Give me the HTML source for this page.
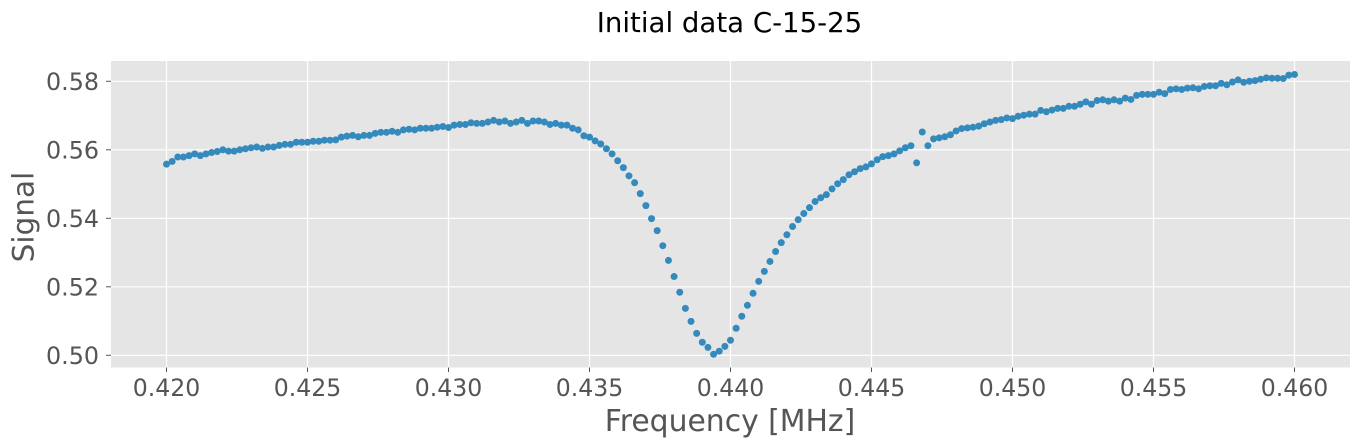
<!DOCTYPE html>
<html><head><meta charset="utf-8"><style>
html,body{margin:0;padding:0;background:#fff;}
svg{display:block;font-family:"DejaVu Sans","Liberation Sans",sans-serif;}
</style></head><body>
<svg id="chart" width="1359" height="446" viewBox="0 0 1359 446">
<text x="729.5" y="32" text-anchor="middle" font-size="27.6" fill="#000">Initial data C-15-25</text>
<rect x="111" y="61" width="1239" height="306.5" fill="#E5E5E5"/>
<g id="grid"></g>
<g id="xticks"></g>
<g id="yticks"></g>
<g id="points"></g>
<text x="730" y="431" text-anchor="middle" font-size="29.8" fill="#555">Frequency [MHz]</text>
<text transform="translate(33.5,217) rotate(-90)" text-anchor="middle" font-size="29.5" fill="#555">Signal</text>
</svg>
<script>
const xStart = 0.420;
const xStep = 0.0002;
const signal = [
.5558,.5566,.5579,.5579,.5583,.5588,.5583,.5588,.5592,.5595,.5600,.5596,.5596,.5600,.5603,.5606,.5608,.5604,.5608,.5608,
.5613,.5616,.5616,.5622,.5622,.5622,.5625,.5625,.5628,.5628,.5629,.5637,.5640,.5642,.5638,.5642,.5642,.5648,.5651,.5651,
.5654,.5651,.5658,.5660,.5658,.5663,.5663,.5663,.5666,.5668,.5665,.5672,.5674,.5674,.5679,.5677,.5677,.5681,.5686,.5681,
.5684,.5677,.5681,.5686,.5677,.5684,.5684,.5681,.5674,.5677,.5672,.5672,.5663,.5658,.5641,.5637,
.5626,.5617,.5603,.5588,.5568,.5548,.5524,.5504,.5472,.5437,.5399,.5364,.5320,.5277,.5230,.5184,.5137,.5099,.5064,.5038,
.5023,.5003,.5012,.5026,.5044,
.5079,.5114,.5146,.5181,.5216,.5245,.5274,.5303,.5329,.5352,.5376,.5396,.5414,.5431,.5449,.5460,.5469,.5486,.5501,.5513,
.5527,.5536,.5545,.5550,.5559,.5571,.5580,.5583,.5588,.5597,.5606,.5612,.5562,.5652,.5612,.5632,.5635,.5638,.5644,.5655,
.5662,.5664,.5666,.5669,.5676,.5681,.5686,.5688,.5693,.5691,.5698,.5701,.5704,.5704,.5715,.5711,.5716,.5721,.5721,.5727,
.5727,.5733,.5740,.5733,.5744,.5746,.5742,.5746,.5742,.5751,.5747,.5759,.5762,.5762,.5762,.5768,.5764,.5776,.5778,.5776,
.5780,.5781,.5778,.5785,.5787,.5787,.5794,.5790,.5798,.5804,.5797,.5800,.5802,.5806,.5810,.5809,.5809,.5808,.5818,.5820
];
const xTicks = [0.420,0.425,0.430,0.435,0.440,0.445,0.450,0.455,0.460];
const xTickLabels = ["0.420","0.425","0.430","0.435","0.440","0.445","0.450","0.455","0.460"];
const yTicks = [0.50,0.52,0.54,0.56,0.58];
const yTickLabels = ["0.50","0.52","0.54","0.56","0.58"];

const NS = "http://www.w3.org/2000/svg";
function xScale(v){ return 166.5 + (v - 0.420) / 0.005 * 141; }
function yScale(v){ return 355.3 - (v - 0.50) / 0.02 * 68.5; }
const grid = document.getElementById('grid');
const xg = document.getElementById('xticks');
const yg = document.getElementById('yticks');
const pg = document.getElementById('points');
function mk(tag, attrs){ const e = document.createElementNS(NS, tag); for (const k in attrs) e.setAttribute(k, attrs[k]); return e; }

xTicks.forEach((t, i) => {
  const x = xScale(t);
  const gl = mk('line', {x1:x, x2:x, y1:61, y2:367.5, stroke:'#fff', 'stroke-width':1.2});
  
  
  grid.appendChild(gl);
  const tk = mk('line', {x1:x, x2:x, y1:367.5, y2:372, stroke:'#555', 'stroke-width':1});
  
  
  xg.appendChild(tk);
  const tx = mk('text', {x:x, y:396, 'text-anchor':'middle', 'font-size':23.6, fill:'#555'});
  tx.textContent = xTickLabels[i];
  
  
  xg.appendChild(tx);
});
yTicks.forEach((t, i) => {
  const y = yScale(t);
  const gl = mk('line', {x1:111, x2:1350, y1:y, y2:y, stroke:'#fff', 'stroke-width':1.2});
  
  
  grid.appendChild(gl);
  const tk = mk('line', {x1:106, x2:111, y1:y, y2:y, stroke:'#555', 'stroke-width':1});
  
  
  yg.appendChild(tk);
  const tx = mk('text', {x:99, y:y + 8.7, 'text-anchor':'end', 'font-size':23.8, fill:'#555'});
  tx.textContent = yTickLabels[i];
  
  
  yg.appendChild(tx);
});
signal.forEach((v, i) => {
  const c = mk('circle', {cx:xScale(xStart + i * xStep), cy:yScale(v), r:3.5, fill:'#348ABD'});
  
  
  pg.appendChild(c);
});
</script>
</body></html>
